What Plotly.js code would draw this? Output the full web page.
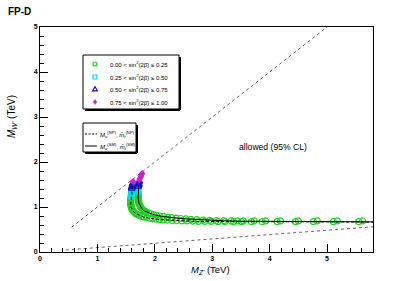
<!DOCTYPE html>
<html>
<head>
<meta charset="utf-8">
<script src="https://cdn.plot.ly/plotly-3.0.1.min.js"></script>
<style>html,body{margin:0;padding:0;background:#fff;}#chart{width:415px;height:281px;}</style>
</head>
<body>
<div id="chart"></div>
<script>
// ---- data ----
const binLabels = ["0.00 < sin<sup>2</sup>(2β̄) ≤ 0.25", "0.25 < sin<sup>2</sup>(2β̄) ≤ 0.50",
                   "0.50 < sin<sup>2</sup>(2β̄) ≤ 0.75", "0.75 < sin<sup>2</sup>(2β̄) ≤ 1.00"];

const greenX = [1.58,1.58,1.58,1.58,1.58,1.58,1.59,1.59,1.60,1.61,1.63,1.65,1.67,1.70,1.73,1.77,1.81,1.86,1.91,1.96,2.02,2.08,2.15,2.22,2.30,2.38,2.47,2.56,2.66,2.76,2.87,2.98,3.10,3.22,3.37,3.51,3.68,3.87,4.13,4.45,4.76,5.11,5.55,
                1.71,1.71,1.71,1.71,1.71,1.71,1.72,1.72,1.73,1.74,1.75,1.77,1.79,1.82,1.85,1.89,1.93,1.98,2.03,2.09,2.15,2.22,2.29,2.37,2.45,2.54,2.63,2.73,2.84,2.95,3.07,3.20,3.33,3.44,3.54,3.73,3.93,4.19,4.50,4.83,5.18,5.62];
const greenY = [1.20,1.17,1.14,1.11,1.08,1.05,1.02,0.99,0.96,0.93,0.90,0.87,0.85,0.83,0.81,0.79,0.78,0.76,0.75,0.74,0.73,0.72,0.715,0.71,0.70,0.695,0.69,0.69,0.685,0.68,0.68,0.68,0.675,0.675,0.675,0.675,0.675,0.675,0.675,0.675,0.675,0.675,0.675,
                1.30,1.27,1.24,1.21,1.18,1.15,1.12,1.09,1.06,1.03,1.00,0.97,0.94,0.91,0.89,0.87,0.85,0.83,0.815,0.80,0.79,0.775,0.765,0.755,0.745,0.735,0.725,0.72,0.71,0.705,0.70,0.695,0.69,0.69,0.69,0.69,0.69,0.69,0.69,0.69,0.69,0.69];
const cyanX = [1.60,1.59,1.59,1.59,1.59,1.58, 1.71,1.71,1.71,1.71];
const cyanY = [1.38,1.35,1.32,1.29,1.26,1.23, 1.42,1.39,1.36,1.33];
const blueX = [1.62,1.61,1.61,1.60,1.60, 1.73,1.72,1.72,1.72,1.71];
const blueY = [1.53,1.50,1.47,1.44,1.41, 1.57,1.54,1.51,1.48,1.45];
const magentaX = [1.62,1.63, 1.78,1.77,1.76,1.75,1.74,1.73];
const magentaY = [1.57,1.55, 1.75,1.72,1.69,1.66,1.63,1.60];

// contours: (NP) dashed, (SM) solid
const npX = [1.61,1.60,1.59,1.58,1.58,1.59,1.61,1.65,1.70,1.77,1.86,1.96,2.08,2.22,2.38,2.56,2.76,2.98,3.3,3.8,4.5,5.2,5.8];
const npY = [1.45,1.35,1.25,1.15,1.05,0.99,0.93,0.87,0.83,0.79,0.76,0.74,0.72,0.71,0.695,0.69,0.68,0.68,0.675,0.67,0.67,0.668,0.665];
const smX = [1.72,1.71,1.71,1.72,1.74,1.77,1.82,1.89,1.98,2.09,2.22,2.37,2.54,2.73,2.95,3.20,3.5,4.0,4.5,5.0,5.5,5.8];
const smY = [1.50,1.35,1.20,1.10,1.03,0.97,0.91,0.87,0.83,0.80,0.775,0.755,0.735,0.72,0.705,0.695,0.685,0.68,0.675,0.672,0.67,0.67];

// dotted boundary lines
const diagX = [0.55, 5.0];
const diagY = [0.55, 5.0];
const lowX = [0.45, 5.8];
const lowY = [0.045, 0.56];

const xTicks = [0,1,2,3,4,5];
const yTicks = [0,1,2,3,4,5];

// ---- styles ----
const GREEN = '#22cc22', CYAN = '#00d8e0', BLUE = '#1010d0', MAG = '#d020d0';
const FONT = 'Arial, Liberation Sans, Helvetica, sans-serif';

const traces = [
  {x: diagX, y: diagY, mode:'lines', line:{color:'#666', width:1, dash:'dot'}, showlegend:false, hoverinfo:'skip'},
  {x: lowX, y: lowY, mode:'lines', line:{color:'#666', width:1, dash:'dot'}, showlegend:false, hoverinfo:'skip'},
  {x: greenX, y: greenY, mode:'markers', name: binLabels[0], marker:{symbol:'circle-open', size:6, color:GREEN, line:{width:1.2}}, showlegend:false},
  {x: cyanX, y: cyanY, mode:'markers', name: binLabels[1], marker:{symbol:'square-open', size:5, color:CYAN, line:{width:1.2}}, showlegend:false},
  {x: blueX, y: blueY, mode:'markers', name: binLabels[2], marker:{symbol:'triangle-up-open', size:6, color:BLUE, line:{width:1.2}}, showlegend:false},
  {x: magentaX, y: magentaY, mode:'markers', name: binLabels[3], marker:{symbol:'diamond', size:5, color:MAG}, showlegend:false},
  {x: npX, y: npY, mode:'lines', line:{color:'#000', width:1, dash:'3px,2px'}, showlegend:false},
  {x: smX, y: smY, mode:'lines', line:{color:'#000', width:1}, showlegend:false}
];

// pixel -> paper helpers (plot area: x 40..373, y 27..252)
const L=40, R=373, T=27, B=252;
const px = v => (v-L)/(R-L);
const py = v => (B-v)/(B-T);

const shapes = [];
const annotations = [];
function box(x0,y0,x1,y1){
  shapes.push({type:'rect', xref:'paper', yref:'paper', x0:px(x0), x1:px(x1), y0:py(y0), y1:py(y1), line:{color:'#000', width:1}, fillcolor:'#fff', layer:'above'});
  shapes.push({type:'line', xref:'paper', yref:'paper', x0:px(x0+2), x1:px(x1+1), y0:py(y1+1), y1:py(y1+1), line:{color:'#000', width:2}, layer:'above'});
  shapes.push({type:'line', xref:'paper', yref:'paper', x0:px(x1+1), x1:px(x1+1), y0:py(y0+2), y1:py(y1+1), line:{color:'#000', width:2}, layer:'above'});
}
box(83,55,179,109);
box(83,123,136,152);

const entY = [64,77,89,102];
const mx = 95, r = 2;
// circle
shapes.push({type:'circle', xref:'paper', yref:'paper', x0:px(mx-r), x1:px(mx+r), y0:py(entY[0]-r), y1:py(entY[0]+r), line:{color:GREEN, width:1.2}, layer:'above'});
// square
shapes.push({type:'rect', xref:'paper', yref:'paper', x0:px(mx-r), x1:px(mx+r), y0:py(entY[1]-r), y1:py(entY[1]+r), line:{color:CYAN, width:1.2}, layer:'above'});
// triangle
shapes.push({type:'path', xref:'paper', yref:'paper', path:`M ${px(mx-2.4)} ${py(entY[2]+1.8)} L ${px(mx+2.4)} ${py(entY[2]+1.8)} L ${px(mx)} ${py(entY[2]-2.4)} Z`, line:{color:BLUE, width:1.2}, layer:'above'});
// diamond
shapes.push({type:'path', xref:'paper', yref:'paper', path:`M ${px(mx)} ${py(entY[3]-2.6)} L ${px(mx+1.8)} ${py(entY[3])} L ${px(mx)} ${py(entY[3]+2.6)} L ${px(mx-1.8)} ${py(entY[3])} Z`, line:{color:MAG, width:0.5}, fillcolor:MAG, layer:'above'});

binLabels.forEach((t,i)=>{
  annotations.push({xref:'paper', yref:'paper', x:px(108), y:py(entY[i]), xanchor:'left', yanchor:'middle', showarrow:false, text:t, font:{family:FONT, size:6, color:'#000'}});
});

// legend 2 entries
shapes.push({type:'line', xref:'paper', yref:'paper', x0:px(85), x1:px(97), y0:py(134), y1:py(134), line:{color:'#000', width:1, dash:'2px,1.5px'}, layer:'above'});
shapes.push({type:'line', xref:'paper', yref:'paper', x0:px(85), x1:px(97), y0:py(146), y1:py(146), line:{color:'#000', width:1}, layer:'above'});
annotations.push({xref:'paper', yref:'paper', x:px(98), y:py(134), xanchor:'left', yanchor:'middle', showarrow:false,
  text:'<i>M</i><sub><i>u</i></sub><sup>(NP)</sup>, <i>m̄</i><sub><i>t</i></sub><sup>(NP)</sup>', font:{family:FONT, size:6, color:'#000'}});
annotations.push({xref:'paper', yref:'paper', x:px(98), y:py(146), xanchor:'left', yanchor:'middle', showarrow:false,
  text:'<i>M</i><sub><i>u</i></sub><sup>(SM)</sup>, <i>m̄</i><sub><i>t</i></sub><sup>(SM)</sup>', font:{family:FONT, size:6, color:'#000'}});

// allowed label
annotations.push({xref:'paper', yref:'paper', x:px(237), y:py(147), xanchor:'left', yanchor:'middle', showarrow:false,
  text:'allowed (95% CL)', font:{family:FONT, size:8.6, color:'#000'}});

// axis titles
annotations.push({xref:'paper', yref:'paper', x:px(232), y:py(270), xanchor:'right', yanchor:'middle', showarrow:false,
  text:'<i>M</i><sub><i>Z\'</i></sub> (TeV)', font:{family:FONT, size:9.5, color:'#000'}});
annotations.push({xref:'paper', yref:'paper', x:px(12), y:py(116), xanchor:'center', yanchor:'middle', showarrow:false, textangle:-90,
  text:'<i>M</i><sub><i>W\'</i></sub> (TeV)', font:{family:FONT, size:10, color:'#000'}});

const axisCommon = {
  showgrid:false, zeroline:false, showline:true, mirror:true, linecolor:'#000', linewidth:1,
  ticks:'inside', ticklen:8, tickwidth:1, tickcolor:'#000',
  tickfont:{family:FONT, size:7, color:'#000', weight:'bold'},
  minor:{ticks:'inside', ticklen:4, tickwidth:1, tickcolor:'#000', dtick:0.2}
};

const layout = {
  width:415, height:281,
  margin:{l:L, r:415-R, t:T, b:281-B, pad:0},
  paper_bgcolor:'#fff', plot_bgcolor:'#fff',
  showlegend:false,
  title:{text:'<b>FP-D</b>', xref:'container', yref:'container', x:8/415, xanchor:'left', y:1-11/281, yanchor:'middle', font:{family:FONT, size:10, color:'#000'}},
  xaxis: Object.assign({}, axisCommon, {range:[0,5.8], tickvals:xTicks, ticktext:xTicks.map(String)}),
  yaxis: Object.assign({}, axisCommon, {range:[0,5], tickvals:yTicks, ticktext:yTicks.map(String)}),
  shapes: shapes,
  annotations: annotations
};

Plotly.newPlot('chart', traces, layout, {staticPlot:true, displayModeBar:false});
</script>
</body>
</html>
